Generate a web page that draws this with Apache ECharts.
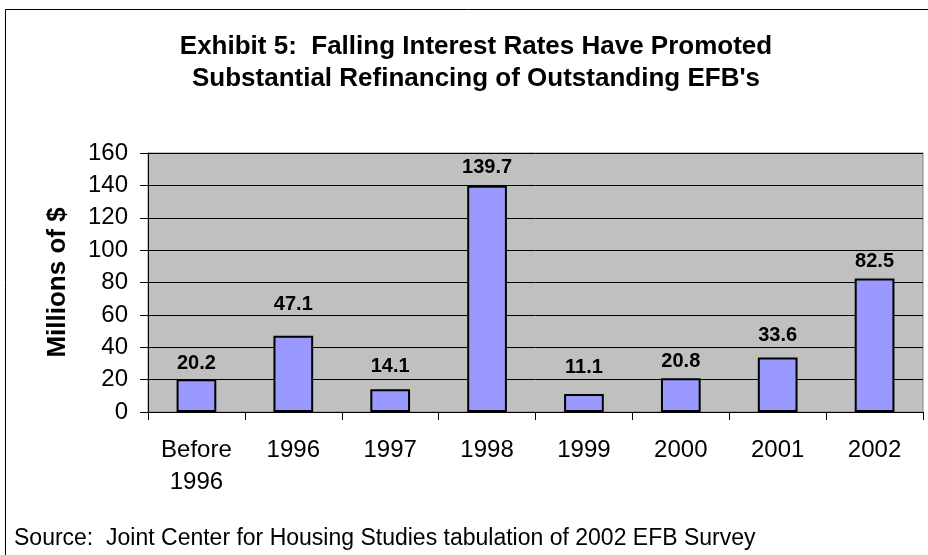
<!DOCTYPE html>
<html>
<head>
<meta charset="utf-8">
<script src="https://cdn.jsdelivr.net/npm/echarts@6/dist/echarts.min.js"></script>
<style>
  html, body { margin: 0; padding: 0; background: #fff; }
  #chart { width: 928px; height: 555px; }
</style>
</head>
<body>
<div id="chart"></div>
<script>
const categories = ['Before\n1996', '1996', '1997', '1998', '1999', '2000', '2001', '2002'];
const values = [20.2, 47.1, 14.1, 139.7, 11.1, 20.8, 33.6, 82.5];
const yTicks = { min: 0, max: 160, interval: 20 };

// extra lift of each value label above its bar, as in the original layout
const labelLift = [0, 15, 7, 2, 11, 1, 6, 1];

const font = 'Arial, "Liberation Sans", sans-serif';
const chart = echarts.init(document.getElementById('chart'), null, { renderer: 'canvas' });

const barData = values.map((v, i) => ({
    value: v,
    label: { distance: 6 + labelLift[i] }
}));

chart.setOption({
    animation: false,
    title: {
        text: "Exhibit 5:  Falling Interest Rates Have Promoted\nSubstantial Refinancing of Outstanding EFB's",
        left: 471,
        top: 26,
        textAlign: 'center',
        textStyle: { fontFamily: font, fontSize: 26, fontWeight: 'bold', color: '#000', lineHeight: 32 }
    },
    graphic: [
        {
            type: 'rect',
            shape: { x: 5.5, y: 9.5, width: 940, height: 560 },
            style: { fill: 'none', stroke: '#000', lineWidth: 1 },
            z: -10
        },
        {
            type: 'text',
            left: 14,
            top: 527,
            style: {
                text: 'Source:  Joint Center for Housing Studies tabulation of 2002 EFB Survey',
                font: '23px ' + font,
                fill: '#000'
            }
        }
    ],
    grid: {
        left: 148, right: 5, top: 153, bottom: 143,
        show: true,
        backgroundColor: '#C0C0C0',
        borderColor: '#808080',
        borderWidth: 1
    },
    xAxis: {
        type: 'category',
        data: categories,
        axisLine: { lineStyle: { color: '#000', width: 1 } },
        axisTick: { show: true, length: 8, lineStyle: { color: '#000' } },
        axisLabel: {
            fontFamily: font, fontSize: 24, color: '#000',
            margin: 22, lineHeight: 32, interval: 0
        }
    },
    yAxis: {
        type: 'value',
        min: yTicks.min, max: yTicks.max, interval: yTicks.interval,
        name: 'Millions of $',
        nameLocation: 'middle',
        nameGap: 77,
        nameTextStyle: { fontFamily: font, fontSize: 26, fontWeight: 'bold', color: '#000' },
        axisLine: { show: true, lineStyle: { color: '#000' } },
        axisTick: { show: true, length: 8, lineStyle: { color: '#000' } },
        axisLabel: { fontFamily: font, fontSize: 24, color: '#000', margin: 20 },
        splitLine: { show: true, lineStyle: { color: '#000', width: 1 } }
    },
    series: [{
        type: 'bar',
        data: barData,
        barWidth: '41%',
        itemStyle: { color: '#9999FF', borderColor: '#000', borderWidth: 2 },
        label: {
            show: true,
            position: 'top',
            fontFamily: font, fontSize: 20, fontWeight: 'bold', color: '#000',
            formatter: p => p.value.toFixed(1)
        }
    }]
});
</script>
</body>
</html>
